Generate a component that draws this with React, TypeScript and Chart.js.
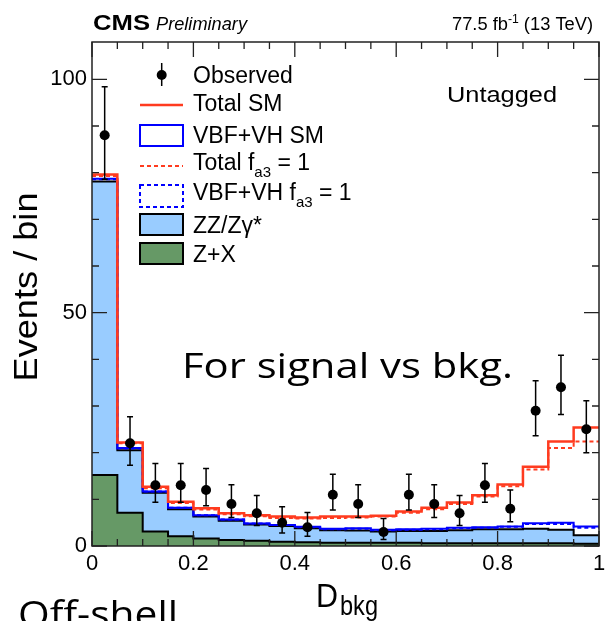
import React, { useEffect, useRef } from 'react';
import { Chart, registerables } from 'chart.js';

Chart.register(...registerables);

// ---- data ----
const binLow = [0, 0.05, 0.1, 0.15, 0.2, 0.25, 0.3, 0.35, 0.4, 0.45, 0.5, 0.55, 0.6, 0.65, 0.7, 0.75, 0.8, 0.85, 0.9, 0.95];
const binWidth = 0.05;
const observed = [88, 22, 13, 13, 12, 9, 7, 5, 4, 11, 9, 3, 11, 9, 7, 13, 8, 29, 34, 25];
const obsErrUp = [10.4, 5.7, 4.7, 4.7, 4.6, 4.1, 3.8, 3.4, 3.2, 4.4, 4.1, 2.9, 4.4, 4.1, 3.8, 4.7, 4.0, 6.4, 6.9, 6.1];
const obsErrDown = [9.4, 4.7, 3.6, 3.6, 3.4, 2.9, 2.6, 2.2, 1.9, 3.3, 2.9, 1.6, 3.3, 2.9, 2.6, 3.6, 2.8, 5.4, 5.8, 5.0];
const zPlusX = [15.2, 7.1, 3.1, 2.1, 1.6, 1.3, 1.1, 0.9, 0.8, 0.7, 0.7, 0.7, 0.7, 0.6, 0.6, 0.6, 0.6, 0.6, 0.6, 0.5];
const zzZg = [62.9, 13.4, 8.3, 5.8, 4.7, 4.1, 3.5, 3.4, 3.0, 2.7, 2.6, 2.4, 2.5, 2.6, 2.8, 3.0, 3.0, 3.1, 2.9, 1.8];
const vbfVhSM = [0.6, 0.5, 0.3, 0.3, 0.3, 0.3, 0.2, 0.2, 0.3, 0.3, 0.5, 0.4, 0.4, 0.5, 0.5, 0.4, 0.6, 1.2, 1.5, 1.9];
const vbfVhA3 = [0.5, 0.4, 0.3, 0.3, 0.3, 0.3, 0.2, 0.2, 0.2, 0.2, 0.4, 0.3, 0.3, 0.4, 0.4, 0.3, 0.5, 1.0, 1.2, 1.6];
const totalSM = [79.6, 22.2, 12.7, 9.5, 8.1, 7.0, 6.6, 6.3, 6.1, 6.3, 6.3, 6.5, 7.4, 8.2, 9.3, 10.9, 13.2, 17.0, 22.4, 25.4];
const totalA3 = [79.3, 22.0, 12.4, 9.2, 7.8, 6.8, 6.4, 6.0, 5.9, 6.0, 6.1, 6.3, 7.1, 7.9, 9.0, 10.6, 12.8, 16.4, 21.0, 22.4];
const xTickValues = [0, 0.2, 0.4, 0.6, 0.8, 1];
const xTickLabels = ['0', '0.2', '0.4', '0.6', '0.8', '1'];
const yTickValues = [0, 50, 100];
const yTickLabels = ['0', '50', '100'];

// ---- styles ----
const RED = '#ff3b1f';
const BLUE = '#0000ff';
const LIGHTBLUE = '#99ccff';
const GREEN = '#669966';
const AR = '"Liberation Sans", Arial, Helvetica, sans-serif';
const OS = '"Open Sans", "Noto Sans", sans-serif';

const stepPoints = (vals: number[]) => [
  ...binLow.map((x, i) => ({ x, y: vals[i] })),
  { x: binLow[binLow.length - 1] + binWidth, y: vals[vals.length - 1] },
];
const addArr = (...arrs: number[][]) => arrs[0].map((_, i) => arrs.reduce((s, a) => s + a[i], 0));

type Run = { t: string; font: string; dy?: number };
function drawRuns(ctx: CanvasRenderingContext2D, runs: Run[], x: number, y: number, align: 'left' | 'right' | 'center' = 'left', targetWidth?: number, color = '#000') {
  ctx.save();
  ctx.textBaseline = 'alphabetic';
  ctx.textAlign = 'left';
  ctx.fillStyle = color;
  const widths = runs.map((r) => { ctx.font = r.font; return ctx.measureText(r.t).width; });
  const total = widths.reduce((a, b) => a + b, 0);
  const sx = targetWidth ? targetWidth / total : 1;
  const w = total * sx;
  const x0 = align === 'left' ? x : align === 'right' ? x - w : x - w / 2;
  ctx.translate(x0, y);
  ctx.scale(sx, 1);
  let cx = 0;
  runs.forEach((r, i) => { ctx.font = r.font; ctx.fillText(r.t, cx, r.dy || 0); cx += widths[i]; });
  ctx.restore();
}

const decor = {
  id: 'decor',
  afterDatasetsDraw(chart: any) {
    const { ctx, scales } = chart;
    const x = scales.x, y = scales.y;
    ctx.save();
    ctx.strokeStyle = '#000';
    ctx.lineWidth = 1.5;
    observed.forEach((n, i) => {
      const px = x.getPixelForValue(binLow[i] + binWidth / 2);
      const yt = y.getPixelForValue(n + obsErrUp[i]);
      const yb = y.getPixelForValue(n - obsErrDown[i]);
      ctx.beginPath();
      ctx.moveTo(px, yt); ctx.lineTo(px, yb);
      ctx.moveTo(px - 3, yt); ctx.lineTo(px + 3, yt);
      ctx.moveTo(px - 3, yb); ctx.lineTo(px + 3, yb);
      ctx.stroke();
    });
    ctx.restore();
  },
  afterDraw(chart: any) {
    const { ctx, chartArea: a, scales } = chart;
    const x = scales.x, y = scales.y;
    ctx.save();
    // frame
    ctx.strokeStyle = '#222';
    ctx.lineWidth = 1.5;
    ctx.strokeRect(a.left, a.top, a.right - a.left, a.bottom - a.top);
    // ticks
    ctx.lineWidth = 1.3;
    ctx.beginPath();
    for (let k = 0; k <= 20; k++) {
      const v = k * binWidth;
      const px = x.getPixelForValue(v);
      const len = k % 4 === 0 ? 15 : 7;
      ctx.moveTo(px, a.bottom); ctx.lineTo(px, a.bottom - len);
      ctx.moveTo(px, a.top); ctx.lineTo(px, a.top + len);
    }
    for (let k = 0; k <= 10; k++) {
      const py = y.getPixelForValue(k * 10);
      const len = k % 5 === 0 ? 15 : 7;
      ctx.moveTo(a.left, py); ctx.lineTo(a.left + len, py);
      ctx.moveTo(a.right, py); ctx.lineTo(a.right - len, py);
    }
    ctx.stroke();

    // header
    drawRuns(ctx, [{ t: 'CMS', font: `bold 22px ${AR}` }], 93, 30, 'left', 57);
    drawRuns(ctx, [{ t: 'Preliminary', font: `italic 18px ${AR}` }], 156, 30, 'left', 91);
    drawRuns(ctx, [
      { t: '77.5 fb', font: `18px ${AR}` },
      { t: '-1', font: `12px ${AR}`, dy: -7 },
      { t: ' (13 TeV)', font: `18px ${AR}` },
    ], 593, 30, 'right', 141);

    // axis titles
    ctx.save();
    ctx.translate(37, 287);
    ctx.rotate(-Math.PI / 2);
    drawRuns(ctx, [{ t: 'Events / bin', font: `34px ${AR}` }], 0, 0, 'center', 189);
    ctx.restore();
    drawRuns(ctx, [{ t: 'D', font: `34px ${AR}` }], 316, 607, 'left', 22);
    drawRuns(ctx, [{ t: 'bkg', font: `28px ${AR}` }], 340, 615, 'left', 38);

    // category label
    drawRuns(ctx, [{ t: 'Untagged', font: `22px ${AR}` }], 447, 102, 'left', 110);

    // legend
    const lx0 = 140, lx1 = 183, tx = 193;
    const F = `23px ${AR}`, S = `15px ${AR}`;
    // Observed
    ctx.fillStyle = '#000';
    ctx.strokeStyle = '#000';
    ctx.lineWidth = 1.5;
    ctx.beginPath(); ctx.moveTo(161.7, 63); ctx.lineTo(161.7, 86); ctx.stroke();
    ctx.beginPath(); ctx.arc(161.7, 75, 5, 0, Math.PI * 2); ctx.fill();
    drawRuns(ctx, [{ t: 'Observed', font: F }], tx, 83);
    // Total SM
    ctx.strokeStyle = RED; ctx.lineWidth = 2.5; ctx.setLineDash([]);
    ctx.beginPath(); ctx.moveTo(lx0, 105); ctx.lineTo(lx1, 105); ctx.stroke();
    drawRuns(ctx, [{ t: 'Total SM', font: F }], tx, 111);
    // VBF+VH SM
    ctx.strokeStyle = BLUE; ctx.lineWidth = 2;
    ctx.strokeRect(lx0, 125, lx1 - lx0, 21);
    drawRuns(ctx, [{ t: 'VBF+VH SM', font: F }], tx, 143);
    // Total fa3 = 1
    ctx.strokeStyle = RED; ctx.lineWidth = 2; ctx.setLineDash([4, 3]);
    ctx.beginPath(); ctx.moveTo(lx0, 166); ctx.lineTo(lx1, 166); ctx.stroke();
    drawRuns(ctx, [{ t: 'Total f', font: F }, { t: 'a3', font: S, dy: 7 }, { t: ' = 1', font: F }], tx, 170);
    // VBF+VH fa3 = 1
    ctx.strokeStyle = BLUE;
    ctx.strokeRect(lx0, 185, lx1 - lx0, 22);
    ctx.setLineDash([]);
    drawRuns(ctx, [{ t: 'VBF+VH f', font: F }, { t: 'a3', font: S, dy: 7 }, { t: ' = 1', font: F }], tx, 200);
    // ZZ
    ctx.fillStyle = LIGHTBLUE; ctx.fillRect(lx0, 214, lx1 - lx0, 21);
    ctx.strokeStyle = '#000'; ctx.lineWidth = 2; ctx.strokeRect(lx0, 214, lx1 - lx0, 21);
    drawRuns(ctx, [{ t: 'ZZ/Zγ*', font: F }], tx, 233);
    // Z+X
    ctx.fillStyle = GREEN; ctx.fillRect(lx0, 243, lx1 - lx0, 21);
    ctx.strokeRect(lx0, 243, lx1 - lx0, 21);
    drawRuns(ctx, [{ t: 'Z+X', font: F }], tx, 262);

    // overlay annotations
    drawRuns(ctx, [{ t: 'For signal vs bkg.', font: `35px ${OS}` }], 182, 378, 'left', 331);
    drawRuns(ctx, [{ t: 'Off-shell', font: `36px ${OS}` }], 18, 627, 'left', 160);
    ctx.restore();
  },
};

export default function App() {
  const ref = useRef<HTMLCanvasElement>(null);
  useEffect(() => {
    if (!ref.current) return;
    const zzTop = addArr(zPlusX, zzZg);
    const vbfSMTop = addArr(zPlusX, zzZg, vbfVhSM);
    const vbfA3Top = addArr(zPlusX, zzZg, vbfVhA3);
    const common = { pointRadius: 0, stepped: 'before' as const, tension: 0 };
    const tickFont = { family: AR, size: 22 };
    const chart = new Chart(ref.current, {
      type: 'line',
      data: {
        datasets: [
          {
            label: 'Observed',
            data: observed.map((v, i) => ({ x: binLow[i] + binWidth / 2, y: v })),
            showLine: false, pointRadius: 5, pointBackgroundColor: '#000', pointBorderWidth: 0,
            borderColor: '#000', order: 0,
          },
          { label: 'Total SM', data: stepPoints(totalSM), borderColor: RED, borderWidth: 2.5, fill: false, order: 1, ...common },
          { label: 'Total fa3 = 1', data: stepPoints(totalA3), borderColor: RED, borderWidth: 2, borderDash: [4, 3], fill: false, order: 2, ...common },
          { label: 'VBF+VH fa3 = 1', data: stepPoints(vbfA3Top), borderColor: BLUE, borderWidth: 2, borderDash: [4, 3], fill: false, order: 3, ...common },
          { label: 'VBF+VH SM', data: stepPoints(vbfSMTop), borderColor: BLUE, borderWidth: 2, fill: false, order: 4, ...common },
          { label: 'ZZ/Zγ*', data: stepPoints(zzTop), borderColor: '#000', borderWidth: 2, backgroundColor: LIGHTBLUE, fill: 6, order: 5, ...common },
          { label: 'Z+X', data: stepPoints(zPlusX), borderColor: '#000', borderWidth: 2, backgroundColor: GREEN, fill: 'origin', order: 6, ...common },
        ] as any,
      },
      options: {
        responsive: false,
        animation: false,
        devicePixelRatio: 1,
        events: [],
        layout: { padding: { top: 42, right: 7, left: 0, bottom: 0 } },
        plugins: {
          legend: { display: false },
          tooltip: { enabled: false },
          filler: { drawTime: 'beforeDatasetsDraw' },
        } as any,
        scales: {
          x: {
            type: 'linear', min: 0, max: 1,
            grid: { display: false, drawTicks: false },
            border: { display: false },
            ticks: {
              font: tickFont, color: '#000', padding: 5, maxRotation: 0, autoSkip: false,
              callback: (v: any) => { const i = xTickValues.findIndex((t) => Math.abs(t - v) < 1e-6); return i >= 0 ? xTickLabels[i] : ''; },
            },
            afterBuildTicks: (s: any) => { s.ticks = xTickValues.map((value) => ({ value })); },
            afterFit: (s: any) => { s.height = 75; s.paddingLeft = 0; s.paddingRight = 0; },
          },
          y: {
            type: 'linear', min: 0, max: 108,
            grid: { display: false, drawTicks: false },
            border: { display: false },
            ticks: {
              font: tickFont, color: '#000', padding: 5,
              callback: (v: any) => { const i = yTickValues.findIndex((t) => Math.abs(t - v) < 1e-6); return i >= 0 ? yTickLabels[i] : ''; },
            },
            afterBuildTicks: (s: any) => { s.ticks = yTickValues.map((value) => ({ value })); },
            afterFit: (s: any) => { s.width = 92; s.paddingTop = 0; s.paddingBottom = 0; },
          },
        } as any,
      },
      plugins: [decor],
    });
    return () => chart.destroy();
  }, []);
  return (
    <div style={{ position: 'fixed', left: 0, top: 0, width: 606, height: 621, background: '#fff', overflow: 'hidden' }}>
      <canvas ref={ref} width={606} height={621} style={{ display: 'block' }} />
    </div>
  );
}
